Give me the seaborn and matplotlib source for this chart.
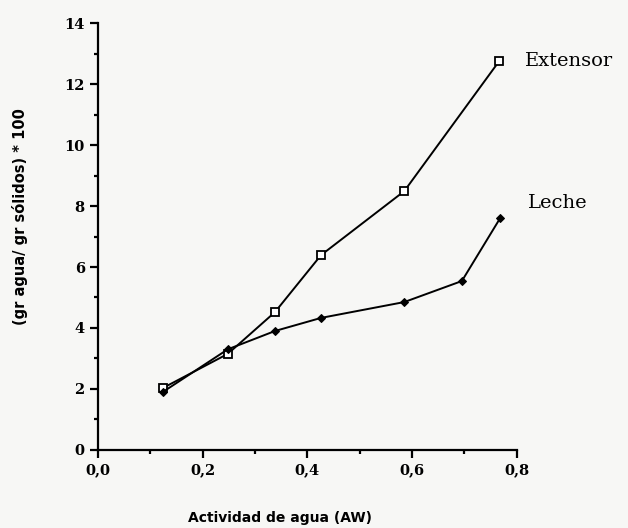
import matplotlib
matplotlib.use("Agg")
import matplotlib.pyplot as plt
import seaborn as sns
import pandas as pd
from matplotlib.ticker import MultipleLocator, FuncFormatter

# Data
aw_extensor = [0.124, 0.248, 0.338, 0.426, 0.585, 0.766]
val_extensor = [2.03, 3.15, 4.52, 6.39, 8.49, 12.75]
aw_leche = [0.124, 0.248, 0.338, 0.426, 0.585, 0.695, 0.768]
val_leche = [1.90, 3.30, 3.90, 4.33, 4.85, 5.54, 7.60]
series_names = ["Extensor", "Leche"]
x_ticks = [0.0, 0.2, 0.4, 0.6, 0.8]
y_ticks = [0, 2, 4, 6, 8, 10, 12, 14]

df_ext = pd.DataFrame({"aw": aw_extensor, "val": val_extensor})
df_lec = pd.DataFrame({"aw": aw_leche, "val": val_leche})

sns.set_style("ticks", {"axes.edgecolor": "black", "text.color": "black",
                        "axes.labelcolor": "black", "xtick.color": "black",
                        "ytick.color": "black"})
plt.rcParams["font.family"] = ["DejaVu Serif"]

fig = plt.figure(figsize=(6.28, 5.28), dpi=100)
bg = "#f7f7f5"
fig.patch.set_facecolor(bg)
ax = fig.add_axes([0.156, 0.148, 0.667, 0.808])
ax.set_facecolor(bg)

sns.lineplot(data=df_ext, x="aw", y="val", ax=ax, color="black", lw=1.4,
             marker="s", markersize=5.5, markerfacecolor="white",
             markeredgecolor="black", markeredgewidth=1.3)
sns.lineplot(data=df_lec, x="aw", y="val", ax=ax, color="black", lw=1.4,
             marker="D", markersize=4.5, markerfacecolor="black",
             markeredgecolor="black")

ax.set_xlim(0, 0.8)
ax.set_ylim(0, 14)
ax.set_xticks(x_ticks)
ax.set_yticks(y_ticks)
ax.xaxis.set_minor_locator(MultipleLocator(0.1))
ax.yaxis.set_minor_locator(MultipleLocator(1))
ax.xaxis.set_major_formatter(FuncFormatter(lambda v, p: f"{v:.1f}".replace(".", ",")))
ax.yaxis.set_major_formatter(FuncFormatter(lambda v, p: f"{int(v)}"))

sns.despine(ax=ax)
for s in ["left", "bottom"]:
    ax.spines[s].set_linewidth(1.6)
    ax.spines[s].set_color("black")
ax.tick_params(which="major", direction="out", length=6, width=1.6,
               labelsize=10.5, colors="black")
ax.tick_params(which="minor", direction="out", length=3, width=1.6,
               colors="black")
for lab in ax.get_xticklabels() + ax.get_yticklabels():
    lab.set_fontweight("bold")

ax.set_xlabel("Actividad de agua (AW)", fontsize=10, fontweight="bold",
              family="DejaVu Sans", color="black")
ax.set_ylabel("(gr agua/ gr sólidos) * 100", fontsize=10.5, fontweight="bold",
              family="DejaVu Sans", color="black")
ax.xaxis.set_label_coords(0.434, -0.143)
ax.yaxis.set_label_coords(-0.168, 0.546)

ax.text(aw_extensor[-1] + 0.05, val_extensor[-1], series_names[0],
        fontsize=14, va="center", ha="left", clip_on=False, color="black")
ax.text(aw_leche[-1] + 0.053, val_leche[-1] + 0.5, series_names[1],
        fontsize=14, va="center", ha="left", clip_on=False, color="black")

fig.savefig("out.png", dpi=100, facecolor=bg)
